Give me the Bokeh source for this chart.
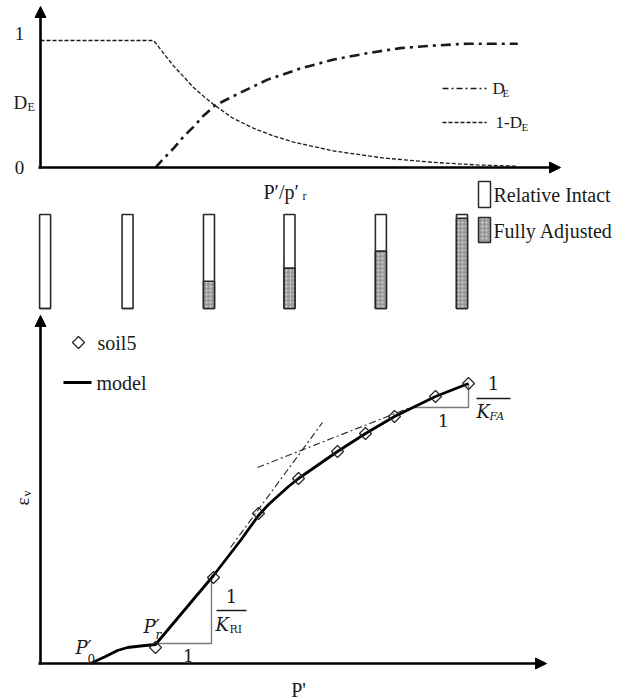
import math
from bokeh.plotting import figure
from bokeh.models import Range1d, Arrow, NormalHead, Label
from bokeh.embed import file_html
from bokeh.resources import INLINE

# ---------------- data ----------------
# top panel: damage variable D_E versus P'/p'r
de_ratio = [1.00, 1.07, 1.157, 1.25, 1.33, 1.42, 1.52, 1.74, 1.97, 2.10, 2.26, 2.55, 2.84, 3.13, 3.42, 3.71, 4.15]
de_val = [0.00, 0.07, 0.15, 0.25, 0.32, 0.41, 0.49, 0.59, 0.69, 0.73, 0.78, 0.85, 0.90, 0.94, 0.96, 0.975, 0.975]
ome_ratio = [0.0, 0.983, 1.07, 1.157, 1.25, 1.33, 1.42, 1.50, 1.67, 1.85, 2.02, 2.20, 2.55, 2.98, 3.42, 3.80, 4.15]
ome_val = [1.0, 1.0, 0.90, 0.80, 0.71, 0.63, 0.56, 0.50, 0.39, 0.31, 0.25, 0.20, 0.13, 0.075, 0.04, 0.02, 0.01]

# middle: state bars (position on P'/p'r scale, fully adjusted fraction)
bar_ratio = [0.04, 0.757, 1.465, 2.165, 2.96, 3.665]
bar_frac = [0.0, 0.0, 0.29, 0.43, 0.61, 0.96]

# bottom panel: eps_v versus P'
model_p = [0.50, 0.65, 0.77, 0.87, 1.00, 1.15, 1.73, 2.00, 2.18, 2.28, 2.38, 2.48, 2.58, 2.97, 3.25, 3.54, 3.95, 4.28]
model_e = [0.00, 0.07, 0.13, 0.16, 0.175, 0.19, 0.88, 1.23, 1.48, 1.59, 1.68, 1.77, 1.85, 2.12, 2.30, 2.47, 2.67, 2.80]
soil_p = [1.15, 1.73, 2.18, 2.58, 2.97, 3.25, 3.54, 3.95, 4.28]
soil_e = [0.16, 0.86, 1.50, 1.85, 2.12, 2.30, 2.47, 2.67, 2.80]
tan_ri_p = [1.90, 2.82]
tan_ri_e = [1.16, 2.41]
tan_fa_p = [2.17, 3.70]
tan_fa_e = [1.96, 2.56]
tri_ri_p = [1.15, 1.71, 1.71]
tri_ri_e = [0.20, 0.20, 0.85]
tri_fa_p = [3.70, 4.28, 4.28]
tri_fa_e = [2.56, 2.56, 2.80]

# ---------------- figure ----------------
W, H = 634, 699
p = figure(width=W, height=H, x_range=Range1d(0, W), y_range=Range1d(H, 0),
           output_backend="svg", toolbar_location=None, min_border=0,
           x_axis_location=None, y_axis_location=None)
p.grid.visible = False
p.outline_line_color = None
p.background_fill_color = "white"
p.border_fill_color = "white"


def rng(a_val, a_px, b_val, b_px, lo_px, hi_px):
    s = (b_val - a_val) / (b_px - a_px)
    return Range1d(start=a_val + (lo_px - a_px) * s, end=a_val + (hi_px - a_px) * s)


p.extra_x_ranges = {"ratio": rng(0, 40, 1, 155, 0, W), "pp": rng(0, 40, 1, 140, 0, W)}
p.extra_y_ranges = {"de": rng(0, 167, 1, 40, H, 0), "frac": rng(0, 308, 1, 214, H, 0),
                    "ev": rng(0, 663, 1, 563, H, 0)}

SERIF = "Liberation Serif"
MATH = "DejaVu Serif"
INK = "#1a1a1a"


def lab(x, y, t, size=20, font=SERIF, align="left", style="normal", angle=0.0, color=INK):
    p.add_layout(Label(x=x, y=y, text=t, text_font=font, text_font_size=f"{size}px",
                       text_align=align, text_baseline="middle", text_font_style=style,
                       angle=angle, text_color=color))


def arrow(x0, y0, x1, y1):
    p.add_layout(Arrow(end=NormalHead(size=11, line_color="black", fill_color="black", line_width=1),
                       x_start=x0, y_start=y0, x_end=x1, y_end=y1,
                       line_width=2.6, line_color="black"))


# ---------- top panel ----------
p.line(ome_ratio, ome_val, x_range_name="ratio", y_range_name="de",
       line_color=INK, line_width=1.3, line_dash="4 2")
p.line(de_ratio, de_val, x_range_name="ratio", y_range_name="de",
       line_color=INK, line_width=2.6, line_dash="10 5 3 5")
arrow(38, 167, 560, 167)
arrow(40, 168, 40, 6)
lab(19, 33, "1", 19, align="center")
lab(19, 167, "0", 19, align="center")
lab(13, 102, "D", 19)
lab(27, 106, "E", 12)
lab(263, 191, "P\u2032/p\u2032", 20)
lab(302, 195, "r", 12)
# legend
p.line([442, 486], [88, 88], line_color=INK, line_width=1.5, line_dash="6 3 2 3")
lab(492, 88, "D", 17)
lab(502, 92, "E", 11)
p.line([442, 486], [122, 122], line_color=INK, line_width=1.5, line_dash="4 2")
lab(495, 122, "1-D", 17)
lab(521, 126, "E", 11)

# ---------- bars ----------
half = 5.5 / 115
p.quad(left=[r - half for r in bar_ratio], right=[r + half for r in bar_ratio],
       bottom=[0] * len(bar_ratio), top=[1] * len(bar_ratio),
       x_range_name="ratio", y_range_name="frac",
       fill_color="white", line_color="#2a2a2a", line_width=1.6)
p.quad(left=[r - half for r in bar_ratio], right=[r + half for r in bar_ratio],
       bottom=[0] * len(bar_ratio), top=bar_frac,
       x_range_name="ratio", y_range_name="frac",
       fill_color="#9a9a9a", hatch_pattern="dot", hatch_color="#dcdcdc", hatch_scale=4,
       line_color="#2a2a2a", line_width=1.6)
# bar legend
p.quad(left=[478], right=[490], bottom=[207], top=[181], fill_color="white",
       line_color="#2a2a2a", line_width=1.5)
p.quad(left=[478], right=[490], bottom=[242], top=[217], fill_color="#9a9a9a",
       hatch_pattern="dot", hatch_color="#dcdcdc", hatch_scale=4,
       line_color="#2a2a2a", line_width=1.5)
lab(493, 194, "Relative Intact", 20)
lab(493, 230, "Fully Adjusted", 20)

# ---------- bottom panel ----------
p.line(tri_ri_p, tri_ri_e, x_range_name="pp", y_range_name="ev", line_color="#7a7a7a", line_width=1.4)
p.line(tri_fa_p, tri_fa_e, x_range_name="pp", y_range_name="ev", line_color="#7a7a7a", line_width=1.4)
p.line(tan_ri_p, tan_ri_e, x_range_name="pp", y_range_name="ev", line_color="#333333",
       line_width=1.2, line_dash="7 3 2 3")
p.line(tan_fa_p, tan_fa_e, x_range_name="pp", y_range_name="ev", line_color="#333333",
       line_width=1.2, line_dash="7 3 2 3")
p.line(model_p, model_e, x_range_name="pp", y_range_name="ev", line_color="black", line_width=2.8)
p.scatter(soil_p, soil_e, x_range_name="pp", y_range_name="ev", marker="square",
          angle=math.pi / 4, size=8.5, fill_alpha=0, line_color="#222222", line_width=1.2)
arrow(38, 663, 546, 663)
arrow(40, 664, 40, 315)
lab(22, 501, "\u03b5", 19, angle=math.pi / 2, align="center")
lab(26, 493, "v", 12, angle=math.pi / 2, align="center")
lab(298, 689, "P'", 20, align="center")
# legend
p.scatter([78], [342], marker="square", angle=math.pi / 4, size=8.5, fill_color="white",
          line_color="#222222", line_width=1.2)
lab(97, 342, "soil5", 20)
p.line([63, 91], [382, 382], line_color="black", line_width=3)
lab(96, 382, "model", 20)
# math annotations
lab(75, 647, "P\u2032", 18, font=MATH, style="italic")
lab(87, 658, "0", 12, font=MATH)
lab(143, 626, "P\u2032", 18, font=MATH, style="italic")
lab(155, 634, "r", 12, font=MATH, style="italic")
lab(231, 595, "1", 18, font=MATH, align="center")
p.line([216, 246], [610, 610], line_color=INK, line_width=1.3)
lab(215, 624, "K", 18, font=MATH, style="italic")
lab(229, 629, "RI", 11, font=MATH)
lab(188, 655, "1", 17, font=MATH, align="center")
lab(493, 382, "1", 18, font=MATH, align="center")
p.line([476, 510], [398, 398], line_color=INK, line_width=1.3)
lab(476, 411, "K", 18, font=MATH, style="italic")
lab(489, 416, "FA", 11, font=MATH, style="italic")
lab(443, 420, "1", 17, font=MATH, align="center")

open("out.html", "w").write(file_html(p, INLINE))
